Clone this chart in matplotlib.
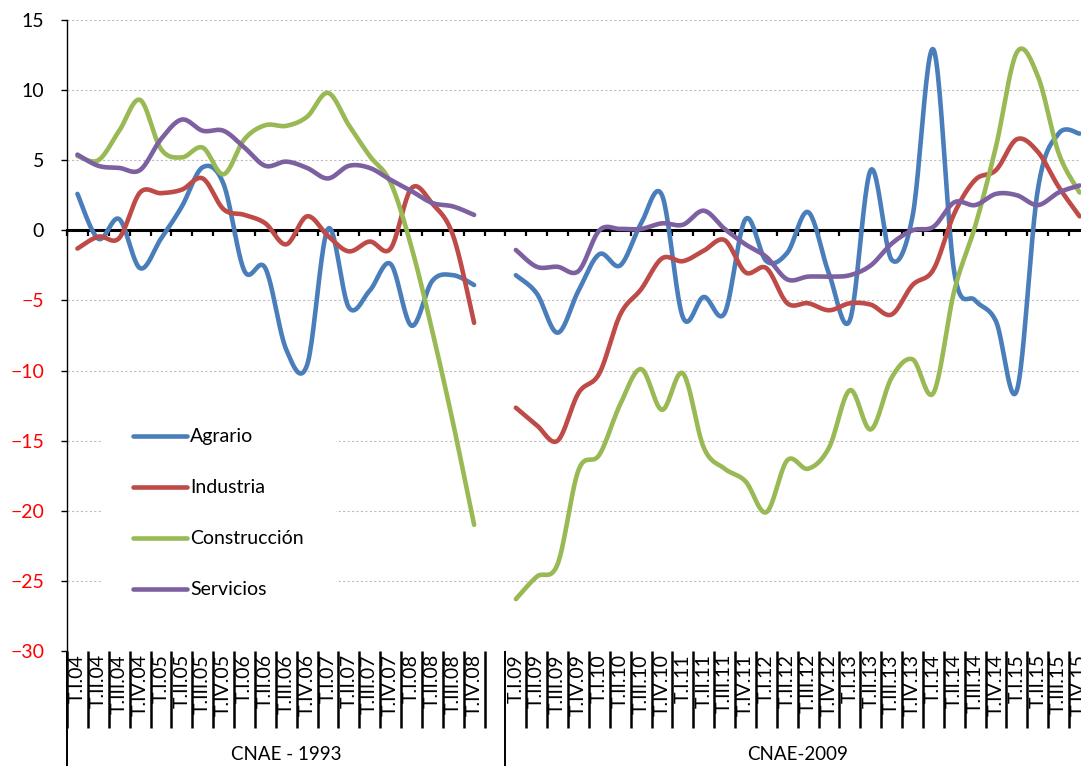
import numpy as np
import matplotlib
matplotlib.use('Agg')
import matplotlib.pyplot as plt
from matplotlib.transforms import blended_transform_factory

plt.rcParams['font.family'] = ['Lato', 'DejaVu Sans']

# quarters, CNAE-1993 block and CNAE-2009 block
labels_1993 = ['T.I.04', 'T.II.04', 'T.III.04', 'T.IV.04',
               'T.I.05', 'T.II.05', 'T.III.05', 'T.IV.05',
               'T.I.06', 'T.II.06', 'T.III.06', 'T.IV.06',
               'T.I.07', 'T.II.07', 'T.III.07', 'T.IV.07',
               'T.I.08', 'T.II.08', 'T.III.08', 'T.IV.08']
labels_2009 = ['T.I.09', 'T.II.09', 'T.III.09', 'T.IV.09',
               'T.I.10', 'T.II.10', 'T.III.10', 'T.IV.10',
               'T.I.11', 'T.II.11', 'T.III.11', 'T.IV.11',
               'T.I.12', 'T.II.12', 'T.III.12', 'T.IV.12',
               'T.I.13', 'T.II.13', 'T.III.13', 'T.IV.13',
               'T.I.14', 'T.II.14', 'T.III.14', 'T.IV.14',
               'T.I.15', 'T.II.15', 'T.III.15', 'T.IV.15']
groups = ['CNAE - 1993', 'CNAE-2009']

agrario_93 = [2.6, -0.6, 0.8, -2.7, -0.6, 1.7, 4.5, 3.3, -2.9, -2.7,
              -8.5, -9.6, 0.1, -5.5, -4.3, -2.4, -6.8, -3.6, -3.2, -3.9]
industria_93 = [-1.3, -0.45, -0.55, 2.7, 2.65, 2.9, 3.7, 1.5, 1.1, 0.5,
                -1.0, 1.0, -0.4, -1.5, -0.8, -1.3, 3.0, 1.9, -0.4, -6.6]
construccion_93 = [5.3, 5.0, 7.1, 9.3, 5.8, 5.2, 5.9, 4.0, 6.5, 7.5,
                   7.45, 8.1, 9.8, 7.5, 5.3, 3.4, -1.2, -7.2, -13.8, -21.0]
servicios_93 = [5.4, 4.6, 4.45, 4.3, 6.5, 7.9, 7.1, 7.1, 5.9, 4.6,
                4.9, 4.45, 3.7, 4.6, 4.45, 3.6, 2.8, 1.95, 1.7, 1.1]

agrario_09 = [-3.2, -4.5, -7.3, -4.3, -1.7, -2.5, 0.5, 2.5, -6.2, -4.75,
              -5.9, 0.8, -2.2, -1.6, 1.3, -3.1, -6.4, 4.3, -2.1, 1.0,
              12.9, -3.0, -5.0, -6.5, -11.4, 2.9, 6.9, 6.9]
industria_09 = [-12.65, -13.9, -15.0, -11.6, -10.2, -6.0, -4.2, -2.0, -2.2, -1.45,
                -0.7, -3.0, -2.7, -5.2, -5.2, -5.7, -5.2, -5.3, -6.0, -3.9,
                -2.8, 1.2, 3.6, 4.3, 6.5, 5.6, 3.1, 1.0]
construccion_09 = [-26.3, -24.7, -23.8, -17.1, -16.0, -12.4, -9.9, -12.8, -10.2, -15.5,
                   -17.0, -17.9, -20.1, -16.4, -17.0, -15.5, -11.4, -14.2, -10.5, -9.2,
                   -11.6, -4.3, 0.3, 6.0, 12.7, 11.0, 5.5, 2.7]
servicios_09 = [-1.4, -2.6, -2.6, -2.9, 0.0, 0.1, 0.1, 0.5, 0.4, 1.4,
                0.1, -1.0, -1.9, -3.5, -3.3, -3.3, -3.2, -2.5, -0.95, 0.0,
                0.25, 2.0, 1.8, 2.6, 2.5, 1.8, 2.7, 3.2]

series = [
    ('Agrario', agrario_93, agrario_09, '#4A7EBB'),
    ('Industria', industria_93, industria_09, '#BE4B48'),
    ('Construcción', construccion_93, construccion_09, '#98B954'),
    ('Servicios', servicios_93, servicios_09, '#7D60A0'),
]


def smooth(x, y, n=24):
    # Excel-like smoothed line: cubic bezier through the points
    x = np.asarray(x, float)
    y = np.asarray(y, float)
    px = np.concatenate([[x[0]], x, [x[-1]]])
    py = np.concatenate([[y[0]], y, [y[-1]]])
    t = np.linspace(0, 1, n)[:, None]
    xs, ys = [], []
    for i in range(1, len(px) - 2):
        p0 = np.array([px[i - 1], py[i - 1]])
        p1 = np.array([px[i], py[i]])
        p2 = np.array([px[i + 1], py[i + 1]])
        p3 = np.array([px[i + 2], py[i + 2]])
        c1 = p1 + (p2 - p0) / 6
        c2 = p2 - (p3 - p1) / 6
        b = ((1 - t) ** 3) * p1 + 3 * ((1 - t) ** 2) * t * c1 + 3 * (1 - t) * t ** 2 * c2 + t ** 3 * p2
        xs.append(b[:, 0])
        ys.append(b[:, 1])
    return np.concatenate(xs), np.concatenate(ys)


n93 = len(labels_1993)
x93 = np.arange(n93)
x09 = np.arange(n93 + 1, n93 + 1 + len(labels_2009))
ncat = n93 + 1 + len(labels_2009)

fig = plt.figure(figsize=(10.81, 7.66), dpi=100)
ax = fig.add_axes([67 / 1081, 115 / 766, 1023 / 1081, 631 / 766])

for name, v93, v09, color in series:
    xa, ya = smooth(x93, v93)
    xb, yb = smooth(x09, v09)
    xx = np.concatenate([xa, [np.nan], xb])
    yy = np.concatenate([ya, [np.nan], yb])
    ax.plot(xx, yy, color=color, lw=3.3, label=name, solid_capstyle='round', zorder=3)

ax.set_xlim(-0.5, ncat - 0.5)
ax.set_ylim(-30, 15)
ax.set_yticks(np.arange(-30, 16, 5))
ax.yaxis.grid(True, color='#BFBFBF', linestyle=(0, (2, 2)), lw=0.8)
ax.set_axisbelow(True)

for sp in ['top', 'right']:
    ax.spines[sp].set_visible(False)
ax.spines['left'].set_linewidth(1.0)
ax.spines['bottom'].set_position(('data', 0))
ax.spines['bottom'].set_linewidth(2.2)
ax.spines['bottom'].set_zorder(2.5)

ax.set_xticks(np.arange(ncat + 1) - 0.5)
ax.tick_params(axis='x', direction='out', length=4, width=1.6, labelbottom=False)
ax.tick_params(axis='y', direction='out', length=4.5, width=1, pad=12, labelsize=14)
for lab in ax.get_yticklabels():
    if float(lab.get_text().replace('−', '-')) < 0:
        lab.set_color('#FF0000')

# category labels under the plot
trans = blended_transform_factory(ax.transData, fig.transFigure)
y_top = 115 / 766
for xi, lab in zip(list(x93) + list(x09), labels_1993 + labels_2009):
    ax.text(xi, 1 - 654 / 766, lab, transform=trans, rotation=90,
            ha='center', va='top', fontsize=14, clip_on=False)

short_sep = list(np.arange(0, n93 + 1) - 0.5) + list(x09[1:] - 0.5) + [ncat - 0.5]
for xs in short_sep:
    ax.plot([xs, xs], [y_top, 1 - 728 / 766], transform=trans, color='black',
            lw=1.8, clip_on=False, solid_capstyle='butt')
for xs in [-0.5, n93 + 0.5]:
    ax.plot([xs, xs], [y_top, 0], transform=trans, color='black',
            lw=1.4, clip_on=False, solid_capstyle='butt')

ax.text((n93 - 0.5 + -0.5) / 2 + 0.5, 1 - 755 / 766, groups[0], transform=trans,
        ha='center', va='center', fontsize=13.5)
ax.text((n93 + 0.5 + ncat - 0.5) / 2, 1 - 755 / 766, groups[1], transform=trans,
        ha='center', va='center', fontsize=13.5)

leg = ax.legend(loc='center left', bbox_to_anchor=(0.0332, 0.218), borderaxespad=0,
                frameon=True, fancybox=False, framealpha=1, facecolor='white',
                edgecolor='none', fontsize=14, handlelength=2.78, handletextpad=0.15,
                labelspacing=1.75, borderpad=1.65)
for h in leg.get_lines():
    h.set_linewidth(3.3)
    h.set_solid_capstyle('round')

fig.savefig('out.png', dpi=100)
